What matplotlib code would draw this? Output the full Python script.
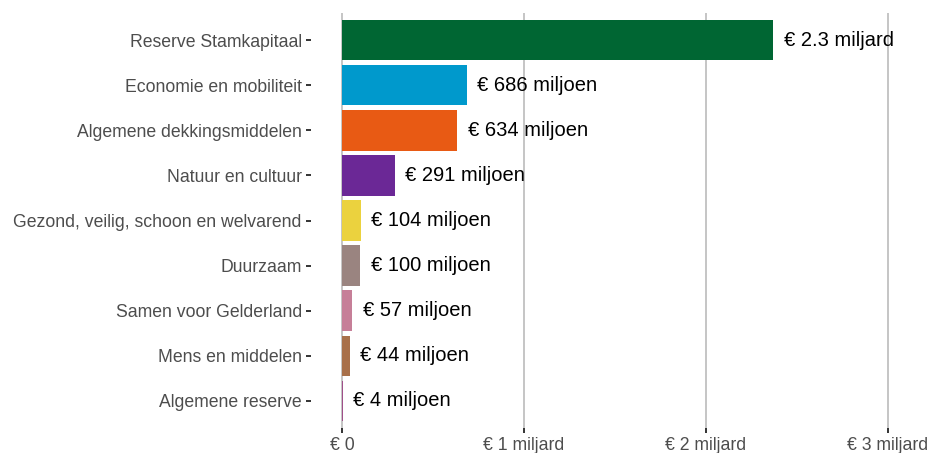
import matplotlib
matplotlib.use("Agg")
import matplotlib.pyplot as plt

categories = ["Reserve Stamkapitaal", "Economie en mobiliteit", "Algemene dekkingsmiddelen",
              "Natuur en cultuur", "Gezond, veilig, schoon en welvarend", "Duurzaam",
              "Samen voor Gelderland", "Mens en middelen", "Algemene reserve"]
values = [2.37e9, 686e6, 634e6, 291e6, 104e6, 100e6, 57e6, 44e6, 4e6]
value_labels = ["€ 2.3 miljard", "€ 686 miljoen", "€ 634 miljoen", "€ 291 miljoen",
                "€ 104 miljoen", "€ 100 miljoen", "€ 57 miljoen", "€ 44 miljoen", "€ 4 miljoen"]
colors = ["#006633", "#0099cc", "#e85a14", "#6b2896", "#ebd23e", "#9a8480",
          "#c67f98", "#a8704a", "#a0508a"]
xticks = [0, 1e9, 2e9, 3e9]
xtick_labels = ["€ 0", "€ 1 miljard", "€ 2 miljard", "€ 3 miljard"]

plt.rcParams['font.family'] = ['Liberation Sans', 'DejaVu Sans']

px_per_unit = 182 / 1e9
x0_px = 342
left_px = 311
xmin = -(x0_px - left_px) / px_per_unit
xmax = 3.15e9
right_px = x0_px + xmax * px_per_unit
top_px, bottom_px = 13, 428

fig = plt.figure(figsize=(9.3, 4.53), dpi=100)
ax = fig.add_axes([left_px/930, 1 - bottom_px/453, (right_px-left_px)/930, (bottom_px-top_px)/453])

ypos = list(range(len(categories)))
ax.barh(ypos, values, height=0.9, color=colors, zorder=3)
for y, v, lab in zip(ypos, values, value_labels):
    ax.annotate(lab, (v, y), xytext=(7.5, 0), textcoords="offset points",
                ha="left", va="center", fontsize=14.5, color="black", zorder=4)

ax.set_ylim(len(categories) - 0.4, -0.6)
ax.set_xlim(xmin, xmax)
ax.set_yticks(ypos)
ax.set_yticklabels(categories, fontsize=12.7, color="#4d4d4d")
ax.set_xticks(xticks)
ax.set_xticklabels(xtick_labels, fontsize=12.7, color="#4d4d4d")
ax.tick_params(axis="y", length=3.6, width=1.4, color="#333333", pad=3)
ax.tick_params(axis="x", length=3.6, width=1.4, color="#333333", pad=3)
ax.xaxis.grid(True, color="#c0c0c0", linewidth=1.3, zorder=0)
ax.yaxis.grid(False)
for s in ax.spines.values():
    s.set_visible(False)
ax.set_facecolor("white")

fig.savefig("out.png", dpi=100, facecolor="white")
